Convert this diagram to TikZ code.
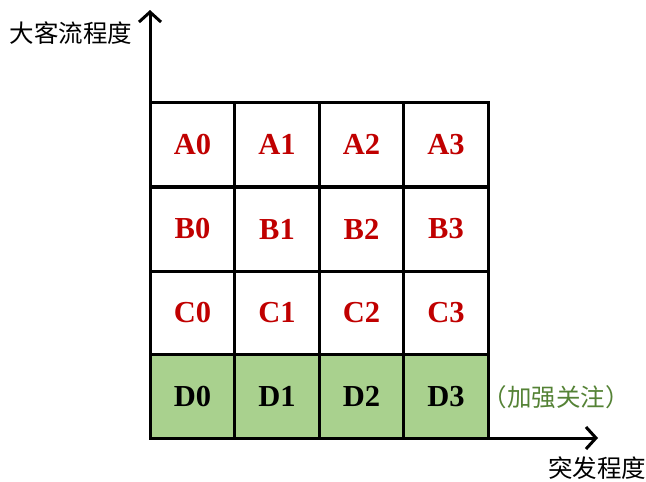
\documentclass[tikz,border=0pt]{standalone}
\usepackage{fontspec}
\setmainfont{Liberation Serif}
\newfontfamily\cjk{Noto Sans CJK SC}
\usetikzlibrary{arrows.meta}
\definecolor{cellred}{HTML}{C00000}
\definecolor{cellgreen}{HTML}{A9D18E}
\definecolor{txtgreen}{HTML}{548235}
\begin{document}
\begin{tikzpicture}[x=1pt,y=-1pt,
  cell/.style={draw=black,line width=3pt,minimum width=84.5pt,minimum height=84pt,inner sep=0pt,
     font=\fontsize{30.5}{30.5}\selectfont\bfseries,text=cellred},
  dcell/.style={cell,fill=cellgreen,text=black},
  axis/.style={line width=3pt,-{Straight Barb[length=10pt,width=22pt,line width=3pt]}},
  lab/.style={font=\cjk\fontsize{24.5}{24.5}\selectfont,inner sep=0pt}]
\useasboundingbox (0,0) rectangle (646,482);
\foreach \r/\L/\yc in {0/A/144.5,1/B/229,2/C/313}{
  \foreach \c/\xc in {0/192.5,1/277,2/361.5,3/446}{
    \node[cell] (\L\c) at (\xc,\yc) {\L\c};
  }
}
\foreach \c/\xc in {0/192.5,1/277,2/361.5,3/446}{
  \node[dcell] (D\c) at (\xc,396.5) {D\c};
}
\coordinate (O) at (150,438);
\coordinate (ytop) at (150,10);
\coordinate (xend) at (598,438);
\draw[axis] (O) -- (ytop);
\draw[axis] (O) -- (xend);
\node[lab] (ylab) at (71,33) {大客流程度};
\node[lab] (xlab) at (597,468) {突发程度};
\node[lab,text=txtgreen,font=\cjk\fontsize{24.5}{24.5}\selectfont] (note) at (556,397) {（加强关注）};
\end{tikzpicture}
\end{document}
